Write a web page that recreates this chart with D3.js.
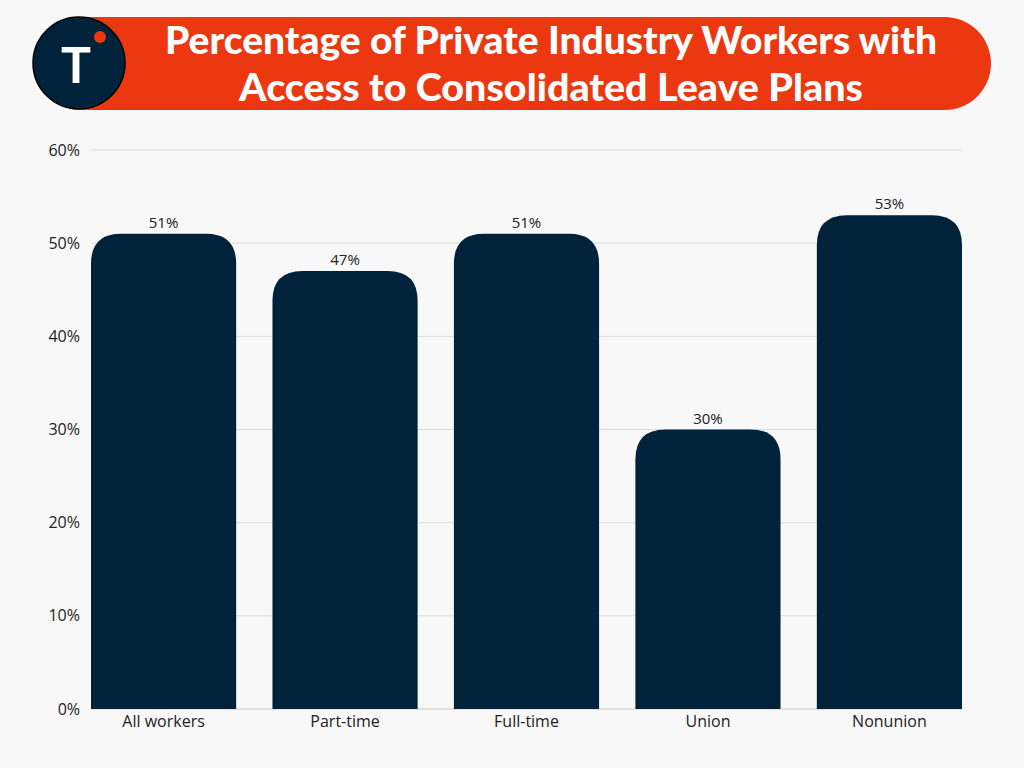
<!DOCTYPE html>
<html><head><meta charset="utf-8">
<script src="https://cdn.jsdelivr.net/npm/d3@7"></script>
<style>body{margin:0;background:#f8f8f8;}svg{display:block;}</style>
</head><body>
<svg id="c" width="1024" height="768"></svg>
<script>
const categories = ["All workers","Part-time","Full-time","Union","Nonunion"];
const values = [51,47,51,30,53];
const yTicks = [0,10,20,30,40,50,60];
const titleLines = ["Percentage of Private Industry Workers with","Access to Consolidated Leave Plans"];

const svg = d3.select("#c");
svg.append("rect").attr("width",1024).attr("height",768).attr("fill","#f8f8f8");

// banner
svg.append("rect").attr("x",35).attr("y",17).attr("width",956).attr("height",93).attr("rx",46.5).attr("fill","#ec3811");
svg.append("circle").attr("cx",79).attr("cy",63).attr("r",46).attr("fill","#01223b").attr("stroke","#000").attr("stroke-width",1.5);
svg.append("text").attr("x",76).attr("y",83).attr("text-anchor","middle").attr("fill","#fff")
  .attr("font-family","Lato, sans-serif").attr("font-weight",700).attr("font-size",50).text("T");
svg.append("circle").attr("cx",100).attr("cy",37).attr("r",6).attr("fill","#ec3811");
const titleW = [772, 624];
svg.selectAll("text.title").data(titleLines).enter().append("text").attr("class","title")
  .attr("x",551).attr("y",(d,i)=>54+i*47).attr("text-anchor","middle").attr("fill","#fff")
  .attr("font-family","Lato, sans-serif").attr("font-weight",900).attr("font-size",38)
  .attr("textLength",(d,i)=>titleW[i]).attr("lengthAdjust","spacingAndGlyphs").text(d=>d);

const x = d3.scaleBand().domain(categories).range([91,962]).paddingInner(0.2).paddingOuter(0);
const y = d3.scaleLinear().domain([0,60]).range([709,150]);

const g = svg.append("g");
g.selectAll("line.grid").data(yTicks).enter().append("line")
  .attr("x1",91).attr("x2",962).attr("y1",d=>y(d)).attr("y2",d=>y(d))
  .attr("stroke",d=>d===0?"#c8c8c8":"#dcdcdc").attr("stroke-width",1);

const yAxis = d3.axisLeft(y).tickValues(yTicks).tickFormat(d=>d+"%").tickSize(0).tickPadding(11);
const ya = svg.append("g").attr("transform","translate(91,0)").call(yAxis);
ya.select(".domain").remove();
ya.selectAll("text").attr("font-family","Open Sans, sans-serif").attr("font-size",16).attr("fill","#222");

const r = 30;
g.selectAll("path.bar").data(values).enter().append("path").attr("class","bar")
  .attr("fill","#01223b")
  .attr("d",(d,i)=>{
    const x0 = x(categories[i]), w = x.bandwidth(), y0 = y(d), y1 = y(0);
    return `M${x0},${y1}L${x0},${y0+r}Q${x0},${y0} ${x0+r},${y0}L${x0+w-r},${y0}Q${x0+w},${y0} ${x0+w},${y0+r}L${x0+w},${y1}Z`;
  });

g.selectAll("text.val").data(values).enter().append("text").attr("class","val")
  .attr("x",(d,i)=>x(categories[i])+x.bandwidth()/2).attr("y",d=>y(d)-6)
  .attr("text-anchor","middle").attr("font-family","Open Sans, sans-serif").attr("font-size",15).attr("fill","#222")
  .text(d=>d+"%");

const xAxis = d3.axisBottom(x).tickSize(0).tickPadding(7);
const xa = svg.append("g").attr("transform","translate(0,709)").call(xAxis);
xa.select(".domain").remove();
xa.selectAll("text").attr("font-family","Open Sans, sans-serif").attr("font-size",16).attr("fill","#222");
</script>
</body></html>
